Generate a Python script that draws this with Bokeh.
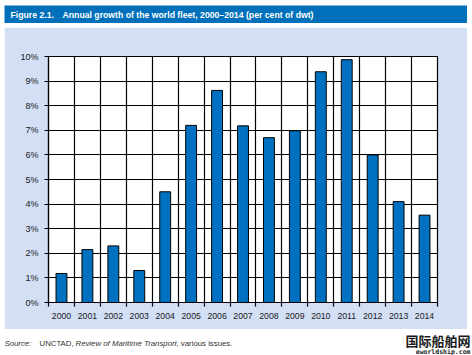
from bokeh.plotting import figure
from bokeh.layouts import column, row
from bokeh.models import Range1d, FixedTicker, Label
from bokeh.embed import file_html
from bokeh.resources import INLINE

# ---- data ----
years = ["2000", "2001", "2002", "2003", "2004", "2005", "2006", "2007",
         "2008", "2009", "2010", "2011", "2012", "2013", "2014"]
growth = [1.18, 2.15, 2.3, 1.3, 4.5, 7.2, 8.62, 7.18, 6.7, 6.98, 9.38, 9.87, 6.0, 4.1, 3.55]
y_ticks = list(range(0, 11))
y_tick_labels = [f"{t}%" for t in y_ticks]
title_num = "Figure 2.1."
title_text = "Annual growth of the world fleet, 2000\u20132014 (per cent of dwt)"

W = 463
BL, BR = 44, 30
DARK = "#0070BA"
PANEL = "#D3DFF5"
BAR = "#0070C0"
FONT = "Liberation Sans"


def bare(width, height, fill):
    f = figure(width=width, height=height, x_range=Range1d(0, 1), y_range=Range1d(0, 1),
               toolbar_location=None, output_backend="svg",
               x_axis_location=None, y_axis_location=None,
               min_border_left=0, min_border_right=0, min_border_top=0, min_border_bottom=0)
    f.background_fill_color = fill
    f.border_fill_color = fill
    f.outline_line_color = None
    for g in f.grid:
        g.visible = False
    return f


# ---- title bar (page x 4..467, y 5..23) ----
head = bare(W, 18, DARK)
head.add_layout(Label(x=6, y=9, x_units="screen", y_units="screen", text=title_num,
                      text_color="white", text_font_style="bold", text_font_size="8.7px",
                      text_font=FONT, text_baseline="middle"))
head.add_layout(Label(x=58, y=9, x_units="screen", y_units="screen", text=title_text,
                      text_color="white", text_font_style="bold", text_font_size="8.7px",
                      text_font=FONT, text_baseline="middle"))

# ---- main chart (page x 4..467, y 27..329) ----
n = len(years)
idx = list(range(n))
p = figure(width=W, height=302, x_range=Range1d(-0.5, n - 0.5), y_range=Range1d(0, 10),
           toolbar_location=None, output_backend="svg",
           min_border_left=BL, min_border_right=BR, min_border_top=29, min_border_bottom=27)
p.border_fill_color = PANEL
p.background_fill_color = "white"
p.outline_line_color = "black"
p.outline_line_width = 1.2

p.xaxis.ticker = FixedTicker(ticks=idx, minor_ticks=[i - 0.5 for i in range(n + 1)])
p.xaxis.major_label_overrides = {i: years[i] for i in idx}
p.xaxis.major_tick_line_color = None
p.xaxis.major_tick_out = 4
p.xaxis.major_tick_in = 0
p.xaxis.minor_tick_out = 4
p.xaxis.minor_tick_in = 0
p.xaxis.minor_tick_line_color = "black"
p.xaxis.minor_tick_line_width = 1.2
p.xaxis.major_label_standoff = 6
p.xaxis.major_label_text_font_size = "8.7px"

p.yaxis.ticker = FixedTicker(ticks=y_ticks, minor_ticks=[])
p.yaxis.major_label_overrides = {t: y_tick_labels[i] for i, t in enumerate(y_ticks)}
p.yaxis.major_tick_out = 4
p.yaxis.major_tick_in = 0
p.yaxis.major_tick_line_color = "black"
p.yaxis.major_tick_line_width = 1.2
p.yaxis.minor_tick_line_color = None
p.yaxis.major_label_standoff = 6
p.yaxis.major_label_text_font_size = "9px"

for ax in (p.xaxis, p.yaxis):
    ax.axis_line_color = "black"
    ax.axis_line_width = 1.2
    ax.major_label_text_font = FONT
    ax.major_label_text_color = "#1a1a1a"

p.xgrid.ticker = FixedTicker(ticks=[i - 0.5 for i in range(n + 1)])
p.ygrid.ticker = FixedTicker(ticks=y_ticks)
for g in (p.xgrid, p.ygrid):
    g.grid_line_color = "black"
    g.grid_line_width = 1.2
    g.grid_line_alpha = 1.0

p.vbar(x=idx, top=growth, width=0.42, bottom=0, fill_color=BAR,
       line_color="black", line_width=1)

# ---- source line (page x 0..472, y 329..355) ----
foot = bare(472, 26, "white")
src_parts = [("Source:", "italic", 4), ("UNCTAD,", "normal", 39),
             ("Review of Maritime Transport", "italic", 75), (", various issues.", "normal", 176)]
for txt, style, xx in src_parts:
    foot.add_layout(Label(x=xx, y=12, x_units="screen", y_units="screen", text=txt,
                          text_font=FONT, text_font_style=style, text_font_size="7.8px",
                          text_color="#333333", text_baseline="middle"))
foot.add_layout(Label(x=470, y=15, x_units="screen", y_units="screen", text="国际船舶网",
                      text_font="Noto Sans CJK SC", text_font_style="bold", text_font_size="13px",
                      text_color="#1a1a1a", text_baseline="middle", text_align="right"))
foot.add_layout(Label(x=470, y=4, x_units="screen", y_units="screen", text="eworldship.com",
                      text_font="DejaVu Sans Mono", text_font_style="bold", text_font_size="6.5px",
                      text_color="#1a1a1a", text_baseline="alphabetic", text_align="right"))

layout = column(row(head, margin=(5, 0, 4, 4)), row(p, margin=(0, 0, 0, 4)), row(foot),
                spacing=0)
open("out.html", "w").write(file_html(layout, INLINE))
